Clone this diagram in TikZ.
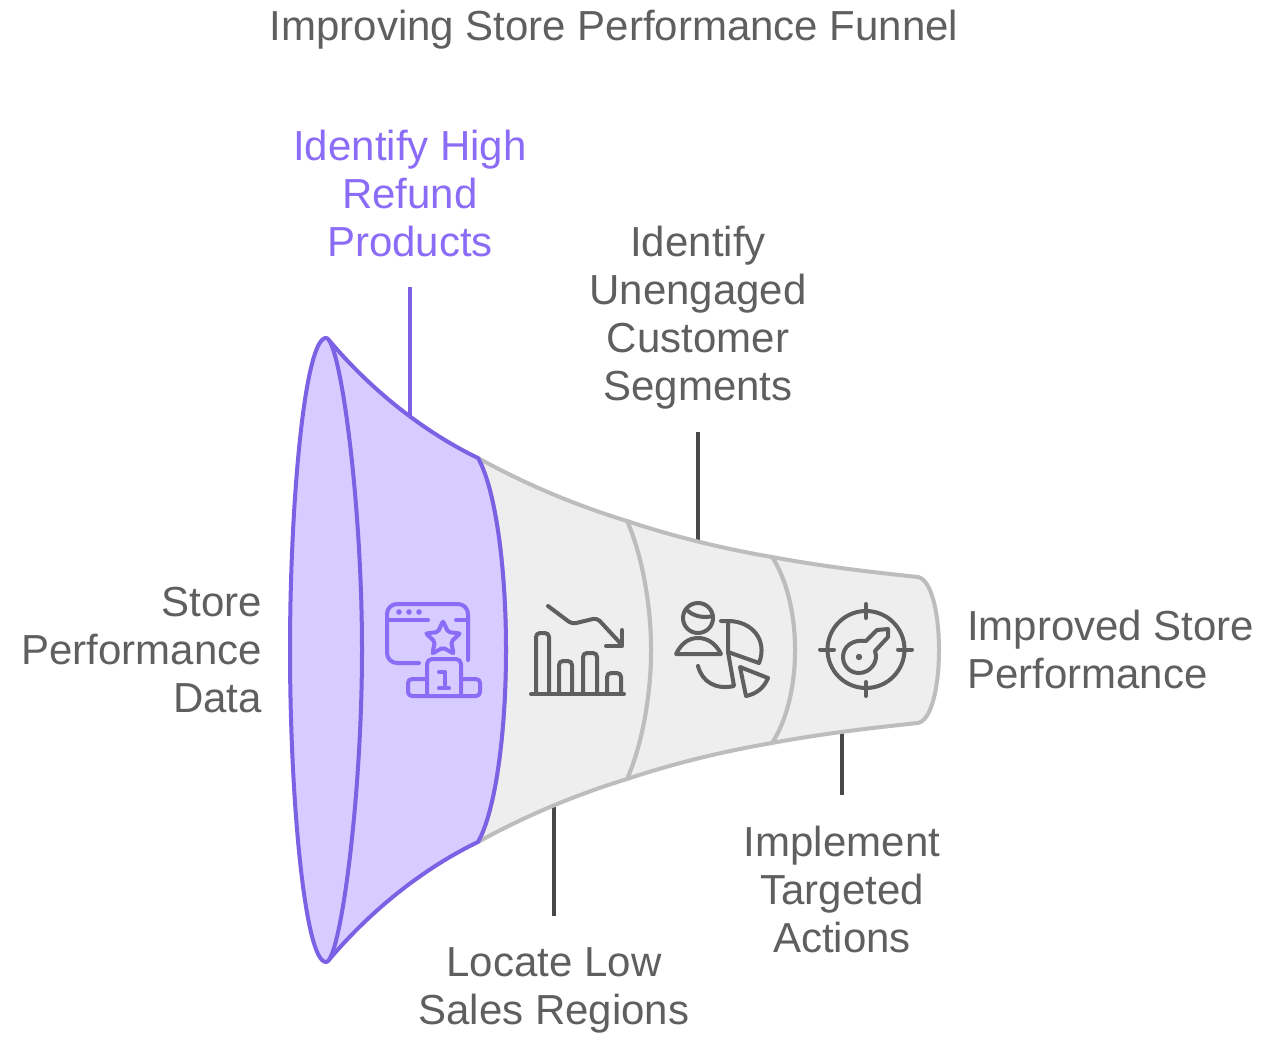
\documentclass[tikz,border=0pt]{standalone}
\usepackage{fontspec}
\setmainfont{Liberation Sans}
\usepackage{xcolor}
\usetikzlibrary{shapes.geometric}

\definecolor{violetline}{HTML}{7B61E4}
\definecolor{violetfill}{HTML}{D6CCFF}
\definecolor{violettext}{HTML}{8B6CF6}
\definecolor{greyline}{HTML}{BDBDBD}
\definecolor{greyfill}{HTML}{EEEEEE}
\definecolor{greytext}{HTML}{5F5F5F}
\definecolor{greyleader}{HTML}{484848}

\tikzset{
	label/.style = {inner sep = 0pt, outer ysep = 31pt, text = greytext, font = \fontsize{42}{48}\selectfont},
	greypart/.style = {draw = greyline, fill = greyfill, line width = 4pt, line join = round},
	violetpart/.style = {draw = violetline, fill = violetfill, line width = 4pt, line join = round},
	leader/.style = {draw = greyleader, line width = 4pt},
	greyicon/.style = {draw = greytext, line width = 4pt, line cap = round, line join = round},
	violeticon/.style = {draw = violettext, line width = 4pt, line cap = round, line join = round}
}

\begin{document}
\begin{tikzpicture}[x = 1pt, y = -1pt]
	\useasboundingbox (0,0) rectangle (1276,1036);

	\node (title)[label] at (614,30) {Improving Store Performance Funnel};
	\node (data)[label, align = right, anchor = east] at (262,650) {Store\\Performance\\Data};
	\node (high)[label, align = center, text = violettext] at (410,193) {Identify High\\Refund\\Products};
	\node (unengaged)[label, align = center, outer ysep = 22pt] at (698,318) {Identify\\Unengaged\\Customer\\Segments};
	\node (low)[label, align = center] at (554,990) {Locate Low\\Sales Regions};
	\node (targeted)[label, align = center] at (842,889) {Implement\\Targeted\\Actions};
	\node (improved)[label, align = left, anchor = west] at (967,649) {Improved Store\\Performance};

	\coordinate (highfoot) at (410,416);
	\coordinate (unengagedfoot) at (698,545);
	\coordinate (lowfoot) at (554,803);
	\coordinate (targetedfoot) at (842,730);

	\draw[leader] (unengaged) -- (unengagedfoot);
	\draw[leader] (low) -- (lowfoot);
	\draw[leader] (targeted) -- (targetedfoot);
	\draw[leader, draw = violetline] (high) -- (highfoot);

	% grey sections, narrow end first
	\draw[greypart] (772,557) .. controls (820,566) and (870,572) .. (918,577)
		.. controls (932,580) and (939,615) .. (939,650)
		.. controls (939,685) and (932,720) .. (918,723)
		.. controls (870,728) and (820,734) .. (772,743)
		.. controls (787,720) and (795,685) .. (795,650)
		.. controls (795,615) and (787,580) .. (772,557) -- cycle;
	\draw[greypart] (627,521) .. controls (675,537) and (725,549) .. (772,557)
		.. controls (787,580) and (795,615) .. (795,650)
		.. controls (795,685) and (787,720) .. (772,743)
		.. controls (725,751) and (675,763) .. (627,779)
		.. controls (642,745) and (651,695) .. (651,650)
		.. controls (651,605) and (642,555) .. (627,521) -- cycle;
	\draw[greypart] (478,458) .. controls (525,484) and (575,505) .. (627,521)
		.. controls (642,555) and (651,605) .. (651,650)
		.. controls (651,695) and (642,745) .. (627,779)
		.. controls (575,795) and (525,816) .. (478,842)
		.. controls (496,810) and (506,730) .. (506,650)
		.. controls (506,570) and (496,490) .. (478,458) -- cycle;

	% violet mouth of the funnel
	\draw[violetpart] (328,339) .. controls (375,395) and (430,435) .. (478,458)
		.. controls (496,490) and (506,570) .. (506,650)
		.. controls (506,730) and (496,810) .. (478,842)
		.. controls (430,865) and (375,905) .. (328,961) -- cycle;
	\draw[violetpart] (326,338) .. controls (305,338) and (290,500) .. (290,650)
		.. controls (290,800) and (305,962) .. (326,962)
		.. controls (340,962) and (362,800) .. (362,650)
		.. controls (362,500) and (340,338) .. (326,338) -- cycle;

	% podium and window
	\draw[violeticon, rounded corners = 10pt] (468,660) -- (468,604) -- (387,604) -- (387,663) -- (419,663);
	\draw[violeticon] (387,620) -- (428,620);
	\draw[violeticon] (456,620) -- (468,620);
	\foreach \dotx in {399,409,419}
		\fill[violettext] (\dotx,612) circle (2.8pt);
	\node (podiumstar)[star, star points = 5, star point ratio = 2.1, minimum size = 36pt, inner sep = 0pt, draw = violettext, line width = 4pt, rounded corners = 2pt] at (443,639) {};
	\draw[violeticon, rounded corners = 5pt] (427,696) -- (427,659) -- (461,659) -- (461,696);
	\draw[violeticon, rounded corners = 4pt] (427,679) -- (408,679) -- (408,696) -- (480,696) -- (480,679) -- (461,679);
	\draw[violeticon] (439,672) -- (445,672) -- (445,688);
	\draw[violeticon] (439,688) -- (449,688);

	% falling sales bars
	\draw[greyicon, rounded corners = 4pt] (548,606) -- (572,624) -- (597,618) -- (622,645);
	\draw[greyicon] (622,630) -- (622,646) -- (606,646);
	\draw[greyicon] (531,694) -- (624,694);
	\draw[greyicon, rounded corners = 4pt] (536,694) -- (536,633) -- (549,633) -- (549,694);
	\draw[greyicon, rounded corners = 4pt] (559,694) -- (559,661) -- (572,661) -- (572,694);
	\draw[greyicon, rounded corners = 4pt] (583,694) -- (583,653) -- (597,653) -- (597,694);
	\draw[greyicon, rounded corners = 4pt] (607,694) -- (607,673) -- (621,673) -- (621,694);

	% customer and pie chart
	\draw[greyicon] (698,618) circle (15pt);
	\draw[greyicon] (688,611) .. controls (695,617) and (705,618) .. (713,616);
	\draw[greyicon] (676,654) -- (721,654) .. controls (716,644) and (708,638) .. (698,638) .. controls (688,638) and (681,644) .. (676,654) -- cycle;
	\draw[greyicon] (721,621) -- (728,621) -- (728,652) -- (759,663) .. controls (768,640) and (752,621) .. (728,621);
	\draw[greyicon] (728,652) -- (734,686) .. controls (716,690) and (702,682) .. (698,666);
	\draw[greyicon] (740,667) -- (746,696) .. controls (756,694) and (764,688) .. (768,678) -- cycle;

	% target and gauge
	\draw[greyicon] (866,649.5) circle (38.5pt);
	\draw[greyicon] (866,604) -- (866,618);
	\draw[greyicon] (866,682) -- (866,696);
	\draw[greyicon] (820,649.5) -- (834,649.5);
	\draw[greyicon] (898,649.5) -- (912,649.5);
	\draw[greyicon] (866,641) -- (877,630) -- (888,629) -- (888,637) -- (875,651)
		.. controls (879,662) and (870,673) .. (859,673)
		.. controls (850,673) and (843,666) .. (843,657)
		.. controls (843,647) and (852,639) .. (866,641) -- cycle;
	\fill[greytext] (859,657) circle (3.2pt);
\end{tikzpicture}
\end{document}
